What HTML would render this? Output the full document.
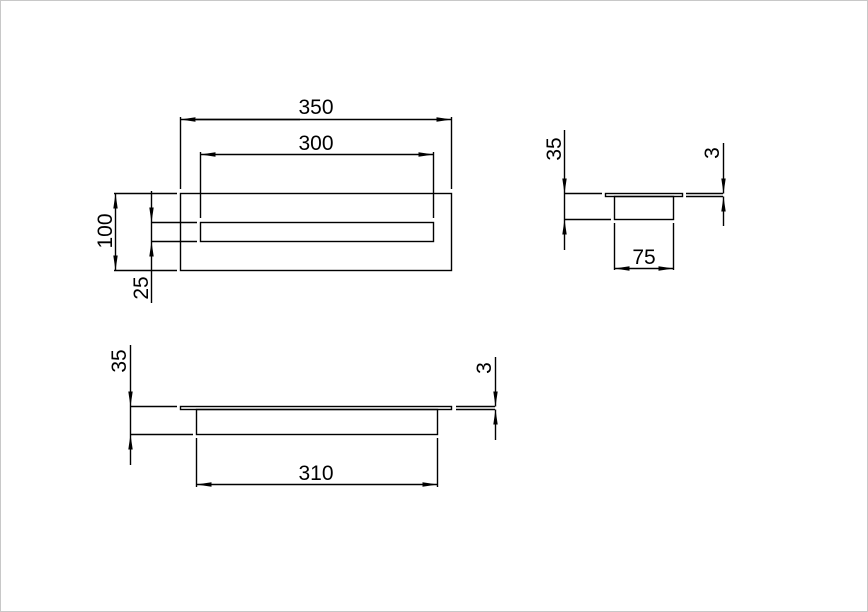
<!DOCTYPE html>
<html><head><style>
html,body{margin:0;padding:0;background:#fff}
svg{display:block}
text{font-family:"Liberation Sans",sans-serif;font-size:21px;fill:#000}
</style></head><body>
<svg width="868" height="612" viewBox="0 0 868 612" xmlns="http://www.w3.org/2000/svg">
<defs>
<marker id="a" markerWidth="15" markerHeight="5" refX="15" refY="2.5" orient="auto" markerUnits="userSpaceOnUse">
<path d="M0,0.3 L15,2.5 L0,4.7 Z" fill="#000"/>
</marker>
</defs>
<rect x="0.5" y="0.5" width="867" height="611" fill="none" stroke="#c8c8c8"/>
<g stroke="#000" stroke-width="1.4" fill="none">
<!-- top view -->
<rect x="180.5" y="193.5" width="271" height="77"/>
<rect x="200.5" y="222.5" width="233" height="19"/>
<line x1="180.5" y1="117" x2="180.5" y2="189"/>
<line x1="451.5" y1="117" x2="451.5" y2="189"/>
<line x1="196" y1="119.5" x2="451.5" y2="119.5" marker-end="url(#a)"/>
<line x1="300" y1="119.5" x2="180.5" y2="119.5" marker-end="url(#a)"/>
<line x1="200.5" y1="152" x2="200.5" y2="218"/>
<line x1="433.5" y1="152" x2="433.5" y2="218"/>
<line x1="300" y1="154.5" x2="200.5" y2="154.5" marker-end="url(#a)"/>
<line x1="300" y1="154.5" x2="433.5" y2="154.5" marker-end="url(#a)"/>
<line x1="114" y1="193.5" x2="177" y2="193.5"/>
<line x1="114" y1="270.5" x2="177" y2="270.5"/>
<line x1="115.5" y1="231" x2="115.5" y2="193.5" marker-end="url(#a)"/>
<line x1="115.5" y1="231" x2="115.5" y2="270.5" marker-end="url(#a)"/>
<line x1="151.5" y1="191" x2="151.5" y2="222.5" marker-end="url(#a)"/>
<line x1="151.5" y1="303" x2="151.5" y2="241.5" marker-end="url(#a)"/>
<line x1="151.5" y1="222.5" x2="151.5" y2="241.5"/>
<line x1="151" y1="222.5" x2="197" y2="222.5"/>
<line x1="151" y1="241.5" x2="197" y2="241.5"/>
<!-- right view -->
<rect x="605.5" y="193.5" width="77" height="3"/>
<rect x="614.5" y="196.5" width="59" height="23"/>
<line x1="564" y1="193.5" x2="602" y2="193.5"/>
<line x1="564" y1="219.5" x2="611" y2="219.5"/>
<line x1="564.5" y1="193.5" x2="564.5" y2="219.5"/>
<line x1="564.5" y1="130" x2="564.5" y2="193.5" marker-end="url(#a)"/>
<line x1="564.5" y1="250" x2="564.5" y2="219.5" marker-end="url(#a)"/>
<line x1="686" y1="193.5" x2="723" y2="193.5"/>
<line x1="686" y1="196.5" x2="723" y2="196.5"/>
<line x1="723.5" y1="143" x2="723.5" y2="193.5" marker-end="url(#a)"/>
<line x1="723.5" y1="226" x2="723.5" y2="196.5" marker-end="url(#a)"/>
<line x1="614.5" y1="223" x2="614.5" y2="270"/>
<line x1="673.5" y1="223" x2="673.5" y2="270"/>
<line x1="644" y1="268.5" x2="614.5" y2="268.5" marker-end="url(#a)"/>
<line x1="644" y1="268.5" x2="673.5" y2="268.5" marker-end="url(#a)"/>
<!-- bottom view -->
<rect x="180.5" y="406.5" width="271" height="3"/>
<rect x="196.5" y="409.5" width="241" height="25"/>
<line x1="130" y1="406.5" x2="177" y2="406.5"/>
<line x1="130" y1="434.5" x2="193" y2="434.5"/>
<line x1="130.5" y1="406.5" x2="130.5" y2="434.5"/>
<line x1="130.5" y1="345" x2="130.5" y2="406.5" marker-end="url(#a)"/>
<line x1="130.5" y1="465" x2="130.5" y2="434.5" marker-end="url(#a)"/>
<line x1="456" y1="406.5" x2="495" y2="406.5"/>
<line x1="456" y1="409.5" x2="495" y2="409.5"/>
<line x1="495.5" y1="357" x2="495.5" y2="406.5" marker-end="url(#a)"/>
<line x1="495.5" y1="440" x2="495.5" y2="409.5" marker-end="url(#a)"/>
<line x1="196.5" y1="438" x2="196.5" y2="487"/>
<line x1="437.5" y1="438" x2="437.5" y2="487"/>
<line x1="316" y1="484.5" x2="196.5" y2="484.5" marker-end="url(#a)"/>
<line x1="316" y1="484.5" x2="437.5" y2="484.5" marker-end="url(#a)"/>
</g>
<g text-anchor="middle">
<text x="316" y="114">350</text>
<text x="316" y="150">300</text>
<text x="644" y="264">75</text>
<text x="316" y="480">310</text>
<text transform="translate(112,231) rotate(-90)">100</text>
<text transform="translate(148,288) rotate(-90)">25</text>
<text transform="translate(561,149) rotate(-90)">35</text>
<text transform="translate(719,153) rotate(-90)">3</text>
<text transform="translate(126,361) rotate(-90)">35</text>
<text transform="translate(491,368) rotate(-90)">3</text>
</g>
</svg>
</body></html>
